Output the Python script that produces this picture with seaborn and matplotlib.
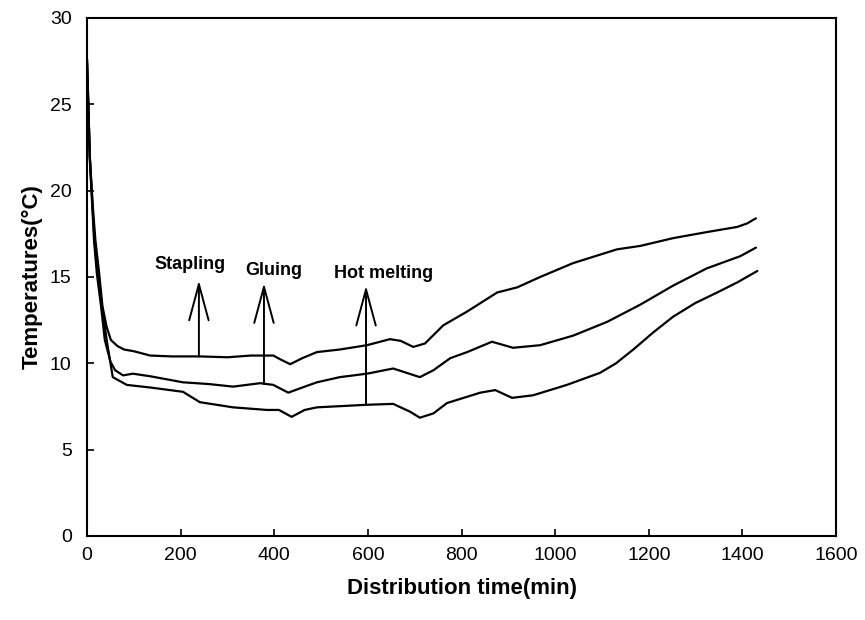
import matplotlib
matplotlib.use("Agg")
import matplotlib.pyplot as plt
import seaborn as sns
import pandas as pd

# Temperature readings (°C) vs. distribution time (min) for three packaging types
time_top = [0, 6, 12, 18, 26, 33, 42, 51, 65, 79, 100, 135, 180, 241, 300, 350, 398, 415, 434,
            460, 491, 540, 598, 647, 670, 697, 722, 761, 812, 876, 919, 968, 1038,
            1132, 1182, 1252, 1324, 1389, 1410, 1429]
temp_top = [27.6, 22.0, 19.2, 17.1, 15.2, 13.3, 12.1, 11.35, 11.0, 10.8, 10.7, 10.45, 10.4,
            10.4, 10.35, 10.45, 10.45, 10.2, 9.95, 10.3, 10.65, 10.8, 11.05, 11.4, 11.3,
            10.95, 11.15, 12.2, 13.0, 14.1, 14.4, 15.0, 15.8, 16.6, 16.8, 17.25, 17.6,
            17.9, 18.1, 18.4]

time_mid = [0, 6, 15, 21, 30, 38, 50, 60, 77, 98, 135, 205, 260, 312, 370, 398, 430,
            460, 491, 540, 598, 654, 711, 740, 776, 812, 865, 910, 968, 1038, 1111,
            1182, 1252, 1324, 1395, 1429]
temp_mid = [27.4, 21.8, 17.1, 15.2, 13.3, 11.35, 10.1, 9.6, 9.3, 9.4, 9.25, 8.9, 8.8,
            8.65, 8.85, 8.75, 8.3, 8.6, 8.9, 9.2, 9.4, 9.7, 9.2, 9.6, 10.3, 10.65, 11.25,
            10.9, 11.05, 11.6, 12.4, 13.4, 14.5, 15.5, 16.2, 16.7]

time_low = [0, 6, 16, 23, 32, 42, 55, 85, 135, 205, 241, 312, 384, 410, 437, 465, 491,
            598, 654, 690, 711, 740, 769, 840, 872, 908, 953, 1025, 1096, 1130, 1167,
            1210, 1252, 1300, 1346, 1390, 1432]
temp_low = [27.6, 21.9, 17.1, 15.2, 13.3, 11.35, 9.2, 8.75, 8.6, 8.35, 7.75, 7.45, 7.3,
            7.3, 6.9, 7.3, 7.45, 7.6, 7.65, 7.2, 6.85, 7.1, 7.7, 8.3, 8.45, 8.0, 8.15,
            8.75, 9.45, 10.0, 10.8, 11.8, 12.7, 13.5, 14.1, 14.7, 15.35]

# Method labels, the time each was applied, and the temperature each arrow starts from
methods = ["Stapling", "Gluing", "Hot melting"]
method_time = [239, 378, 596]
method_temp = [10.4, 8.8, 7.6]

x_ticks = [0, 200, 400, 600, 800, 1000, 1200, 1400, 1600]
y_ticks = [0, 5, 10, 15, 20, 25, 30]

sns.set_style("ticks")
plt.rcParams["font.family"] = ["Liberation Sans", "DejaVu Sans"]
plt.rcParams.update({"text.color": "black", "axes.labelcolor": "black",
                     "xtick.color": "black", "ytick.color": "black"})

fig = plt.figure(figsize=(8.65, 6.2), dpi=100)
ax = fig.add_axes([0.1006, 0.1355, 0.8659, 0.8355])

for t, v in [(time_top, temp_top), (time_mid, temp_mid), (time_low, temp_low)]:
    df = pd.DataFrame({"time": t, "temp": v})
    sns.lineplot(data=df, x="time", y="temp", color="black", linewidth=1.6,
                 estimator=None, sort=False, ax=ax)

# Arrows marking the sealing methods
arrow_top = [14.8, 14.65, 14.5]
text_pos = [(220, 15.7), (398, 15.35), (633, 15.2)]
for name, t, v, top, (tx, ty) in zip(methods, method_time, method_temp, arrow_top, text_pos):
    ax.annotate("", xy=(t, top), xytext=(t, v),
                arrowprops=dict(arrowstyle="->,head_length=1.3,head_width=0.35",
                                color="black", lw=1.4, mutation_scale=20,
                                shrinkA=0, shrinkB=0))
    ax.text(tx, ty, name, ha="center", va="center", fontsize=13, fontweight="bold")

ax.set_xlim(0, 1600)
ax.set_ylim(0, 30)
ax.set_xticks(x_ticks)
ax.set_yticks(y_ticks)
ax.tick_params(axis="both", direction="in", length=5, width=1.2, labelsize=14,
               top=False, right=False)
ax.tick_params(axis="x", pad=8)
ax.tick_params(axis="y", pad=11)

ax.set_xlabel("Distribution time(min)", fontsize=16, fontweight="bold", labelpad=10)
ax.set_ylabel("Temperatures(°C)", fontsize=16, fontweight="bold", labelpad=5)

for side in ["top", "right", "bottom", "left"]:
    ax.spines[side].set_visible(True)
    ax.spines[side].set_linewidth(1.5)
    ax.spines[side].set_color("black")

fig.savefig("out.png", dpi=100)
